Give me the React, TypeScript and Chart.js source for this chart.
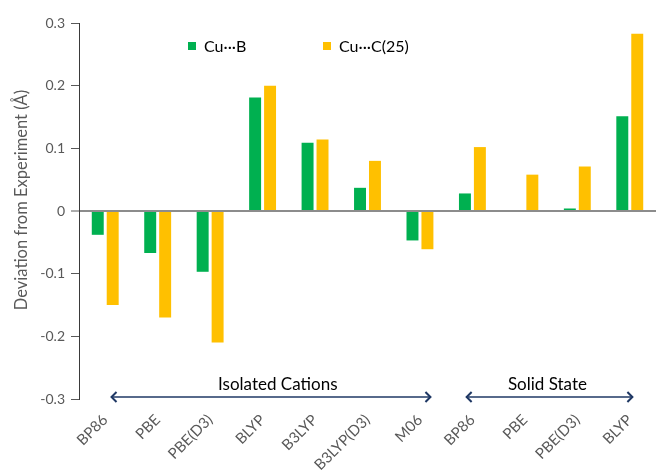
import React, { useEffect, useRef } from "react";
import { Chart, registerables } from "chart.js";

Chart.register(...registerables);

const categories = ["BP86", "PBE", "PBE(D3)", "BLYP", "B3LYP", "B3LYP(D3)", "M06", "BP86", "PBE", "PBE(D3)", "BLYP"];
const cuB = [-0.038, -0.067, -0.097, 0.181, 0.109, 0.037, -0.047, 0.028, 0, 0.004, 0.151];
const cuC = [-0.15, -0.17, -0.21, 0.2, 0.114, 0.08, -0.061, 0.102, 0.058, 0.071, 0.283];
const seriesNames = ["Cu\u00B7\u00B7\u00B7B", "Cu\u00B7\u00B7\u00B7C(25)"];
const groupNames = ["Isolated Cations", "Solid State"];
const yTicks = [-0.3, -0.2, -0.1, 0, 0.1, 0.2, 0.3];
const yTitle = "Deviation from Experiment (\u00C5)";

const FONT = "Lato, 'Open Sans', sans-serif";
const GRAY = "#595959";
const NAVY = "#1F3864";

const overlayPlugin = {
  id: "overlay",
  afterDraw(chart: any) {
    const ctx = chart.ctx;
    const x = chart.scales.x;
    const y = chart.scales.y;
    ctx.save();
    // y title
    ctx.save();
    ctx.translate(22, 200);
    ctx.rotate(-Math.PI / 2);
    ctx.fillStyle = GRAY;
    ctx.font = `16.5px ${FONT}`;
    ctx.textAlign = "center";
    ctx.textBaseline = "middle";
    ctx.fillText(yTitle, 0, 0);
    ctx.restore();
    // legend
    const legendX = [188, 323];
    const legendY = 46;
    chart.data.datasets.forEach((ds: any, i: number) => {
      ctx.fillStyle = ds.backgroundColor;
      ctx.fillRect(legendX[i], legendY - 4, 8, 8);
      ctx.fillStyle = "#000";
      ctx.font = `16px ${FONT}`;
      ctx.textBaseline = "middle";
      ctx.textAlign = "left";
      ctx.fillText(ds.label, legendX[i] + 16, legendY + 1);
    });
    // group arrows
    const arrows = [
      { from: 0.12, to: 6.2, text: 3.29, label: groupNames[0] },
      { from: 6.89, to: 10.05, text: 8.43, label: groupNames[1] },
    ];
    const ay = y.getPixelForValue(-0.3) - 2;
    ctx.strokeStyle = NAVY;
    arrows.forEach((a) => {
      const x1 = x.getPixelForValue(a.from);
      const x2 = x.getPixelForValue(a.to);
      ctx.lineWidth = 1.3;
      ctx.beginPath();
      ctx.moveTo(x1, ay);
      ctx.lineTo(x2, ay);
      ctx.stroke();
      ctx.lineWidth = 2;
      ctx.beginPath();
      ctx.moveTo(x1 + 5, ay - 5);
      ctx.lineTo(x1, ay);
      ctx.lineTo(x1 + 5, ay + 5);
      ctx.moveTo(x2 - 5, ay - 5);
      ctx.lineTo(x2, ay);
      ctx.lineTo(x2 - 5, ay + 5);
      ctx.stroke();
      ctx.fillStyle = "#000";
      ctx.font = `17px ${FONT}`;
      ctx.textAlign = "center";
      ctx.textBaseline = "alphabetic";
      ctx.fillText(a.label, x.getPixelForValue(a.text), ay - 7);
    });
    ctx.restore();
  },
};

export default function App() {
  const ref = useRef<HTMLCanvasElement | null>(null);
  useEffect(() => {
    if (!ref.current) return;
    const chart = new Chart(ref.current, {
      type: "bar",
      data: {
        labels: categories,
        datasets: [
          { label: seriesNames[0], data: cuB, backgroundColor: "#00B050", categoryPercentage: 0.57, barPercentage: 0.8 },
          { label: seriesNames[1], data: cuC, backgroundColor: "#FFC000", categoryPercentage: 0.57, barPercentage: 0.8 },
        ],
      },
      options: {
        responsive: false,
        animation: false,
        layout: { padding: { left: 4, right: 1, top: 23, bottom: 0 } },
        plugins: { legend: { display: false }, tooltip: { enabled: false } },
        scales: {
          x: {
            grid: { display: false, drawTicks: false },
            border: { display: false },
            ticks: {
              minRotation: 45,
              maxRotation: 45,
              padding: 12,
              color: GRAY,
              font: { family: FONT, size: 15 },
              autoSkip: false,
            },
            afterFit(scale: any) {
              scale.height = 72;
            },
          },
          y: {
            min: -0.3,
            max: 0.3,
            afterBuildTicks(scale: any) {
              scale.ticks = yTicks.map((v) => ({ value: v }));
            },
            ticks: {
              color: GRAY,
              font: { family: FONT, size: 14 },
              padding: 6,
              callback: (v: any) => (Math.abs(v) < 1e-9 ? "0" : String(Math.round(v * 10) / 10)),
            },
            grid: {
              drawOnChartArea: true,
              color: (c: any) => (c.tick && Math.abs(c.tick.value) < 1e-9 ? "#8C8C8C" : "rgba(0,0,0,0)"),
              lineWidth: (c: any) => (c.tick && Math.abs(c.tick.value) < 1e-9 ? 2 : 1),
              tickColor: GRAY,
              tickWidth: 1,
              tickLength: 8,
            },
            border: { display: true, color: "#3a3a3a", width: 1 },
            title: { display: false },
            afterFit(scale: any) {
              scale.width = 75;
            },
          },
        },
      },
      plugins: [overlayPlugin],
    } as any);
    return () => chart.destroy();
  }, []);
  return (
    <div style={{ position: "absolute", left: 0, top: 0, width: 657, height: 471, background: "#fff" }}>
      <canvas ref={ref} width={657} height={471} />
    </div>
  );
}
